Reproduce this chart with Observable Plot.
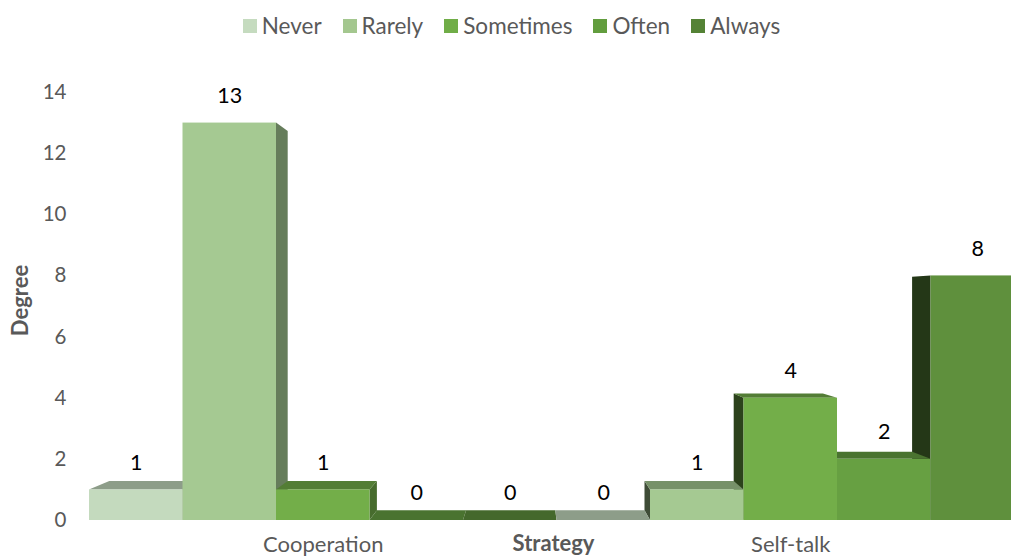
<!DOCTYPE html>
<html><head><meta charset="utf-8">
<script src="https://cdn.jsdelivr.net/npm/d3@7"></script>
<script src="https://cdn.jsdelivr.net/npm/@observablehq/plot@0.6"></script>
<style>
html,body{margin:0;padding:0;background:#fff;overflow:hidden;width:1011px;height:558px}
#legend{height:45px;display:flex;justify-content:center;align-items:center;gap:21px;font-family:Lato,sans-serif;font-size:22.5px;color:#595959;padding-top:6px;padding-left:12px;box-sizing:border-box}
.item{display:flex;align-items:center;gap:5px}
.sw{width:14px;height:14px;display:inline-block}
#chart svg{overflow:hidden;display:block}
</style></head><body>
<div id="legend"></div>
<div id="chart"></div>
<script>
const categories = ["Cooperation", "Self-talk"];
const levels = ["Never", "Rarely", "Sometimes", "Often", "Always"];
const cooperation = [1, 13, 1, 0, 0];
const selfTalk = [0, 1, 4, 2, 8];
const yTicks = [0, 2, 4, 6, 8, 10, 12, 14];
const legendColors = ["#c5dbbf", "#a4c78f", "#70ad47", "#629d3e", "#548235"];
const frontColors = ["#c4dabe", "#a5c992", "#73ae49", "#67a042", "#5f903d"];

// legend
const lg = document.getElementById("legend");
levels.forEach((l, j) => {
  const it = document.createElement("div"); it.className = "item";
  const sw = document.createElement("span"); sw.className = "sw"; sw.style.background = legendColors[j];
  const tx = document.createElement("span"); tx.textContent = l;
  it.appendChild(sw); it.appendChild(tx); lg.appendChild(it);
});

const values = [...cooperation, ...selfTalk];
const bars = values.map((v, i) => ({i, v, j: i % 5, level: levels[i % 5], cat: categories[Math.floor(i / 5)], front: frontColors[i % 5]}));

// simple perspective projection of the bar depth
const K = 0.046, VPX = 4.72, VPY = 7;
const back = (x, y) => [x + K * (VPX - x), y + K * (VPY - y)];
const dark = (c, f) => { const r = d3.rgb(c); return d3.rgb(r.r * f, r.g * f, r.b * f).formatHex(); };

const tops = bars.filter(b => b.v < VPY).flatMap(b => {
  const [bx0, by] = back(b.i, b.v);
  const [bx1] = back(b.i + 1, b.v);
  const fill = dark(b.front, 0.72);
  return [{z: b.i, y: b.v, x1: b.i, x2: b.i + 1, fill}, {z: b.i, y: by, x1: bx0, x2: bx1, fill}];
});
const sides = bars.filter(b => b.v > 0 && (b.i + 1 < VPX || b.i > VPX)).flatMap(b => {
  const rightSide = b.i + 1 < VPX;
  const xe = rightSide ? b.i + 1 : b.i;
  const [bx, by0] = back(xe, 0);
  const [, byt] = back(xe, b.v);
  const fill = dark(b.front, rightSide ? 0.62 : 0.38);
  return [{z: b.i, x: xe, y1: 0, y2: b.v, fill}, {z: b.i, x: bx, y1: by0, y2: byt, fill}];
});

const plot = Plot.plot({
  width: 1011, height: 513,
  marginLeft: 89, marginRight: 0, marginTop: 47, marginBottom: 38,
  x: {type: "linear", domain: [0, 10], range: [89, 1024], axis: null},
  y: {domain: [0, 14], range: [475, 47]},
  color: {type: "identity"},
  style: {fontFamily: "Lato, sans-serif", background: "white"},
  marks: [
    Plot.axisY({ticks: yTicks, tickSize: 0, tickPadding: 23, fontSize: 20.5, fill: "#595959", label: null}),
    Plot.areaY(sides, {x: "x", y1: "y1", y2: "y2", z: "z", fill: "fill"}),
    Plot.areaX(tops, {y: "y", x1: "x1", x2: "x2", z: "z", fill: "fill"}),
    Plot.rect(bars, {x1: "i", x2: d => d.i + 1, y1: 0, y2: "v", fill: "front"}),
    Plot.text(bars, {x: d => d.i + 0.5, y: "v", text: d => String(d.v), dy: -27, fontSize: 21.5, fill: "black", lineAnchor: "middle"}),
    Plot.text(categories, {x: (d, i) => i * 5 + 2.5, text: d => d, frameAnchor: "bottom", lineAnchor: "middle", dy: 24, fontSize: 22, fill: "#595959"}),
    Plot.text(["Strategy"], {text: d => d, frameAnchor: "bottom", lineAnchor: "middle", textAnchor: "middle", dx: 3, dy: 23, fontWeight: "bold", fontSize: 22, fill: "#595959"}),
    Plot.text(["Degree"], {text: d => d, frameAnchor: "left", lineAnchor: "middle", textAnchor: "middle", dx: -69, dy: -6, rotate: -90, fontWeight: "bold", fontSize: 22, fill: "#595959"})
  ]
});
document.getElementById("chart").appendChild(plot);
</script>
</body></html>
